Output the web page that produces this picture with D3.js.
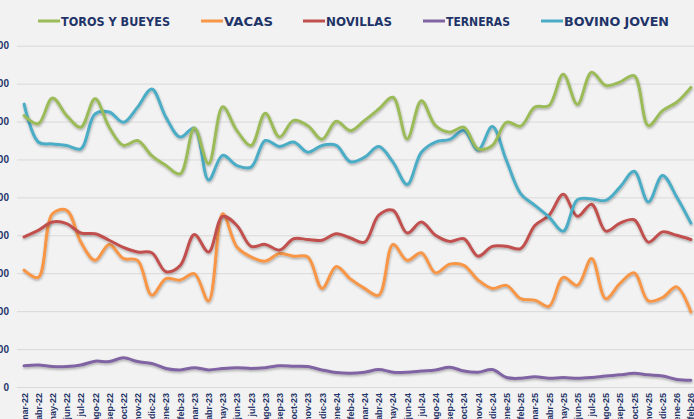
<!DOCTYPE html>
<html><head><meta charset="utf-8">
<script src="https://cdn.jsdelivr.net/npm/d3@7"></script>
<style>html,body{margin:0;padding:0;background:#f2f2f2;overflow:hidden}</style>
</head><body>
<svg id="c" width="694" height="419"></svg>
<script>
const months = ["mar-22","abr-22","may-22","jun-22","jul-22","ago-22","sep-22","oct-22","nov-22","dic-22",
"ene-23","feb-23","mar-23","abr-23","may-23","jun-23","jul-23","ago-23","sep-23","oct-23","nov-23","dic-23",
"ene-24","feb-24","mar-24","abr-24","may-24","jun-24","jul-24","ago-24","sep-24","oct-24","nov-24","dic-24",
"ene-25","feb-25","mar-25","abr-25","may-25","jun-25","jul-25","ago-25","sep-25","oct-25","nov-25","dic-25",
"ene-26","feb-26"];
const yTicks = [0,100,200,300,400,500,600,700,800,900];
const seriesNames = ["TOROS Y BUEYES","VACAS","NOVILLAS","TERNERAS","BOVINO JOVEN"];
const seriesColors = ["#9bbb59","#f79646","#c0504d","#8064a2","#4bacc6"];
const toros = [716,694,762,716,685,760,685,637,650,610,584,562,683,589,739,676,637,722,659,703,689,653,701,676,
703,733,764,654,755,689,672,685,628,637,698,688,738,742,825,745,830,795,804,821,689,729,751,790];
const vacas = [308,289,457,466,382,334,376,339,334,242,286,282,299,227,457,369,343,332,352,345,343,260,318,285,
260,242,376,334,354,301,324,321,282,260,268,233,229,213,289,268,339,233,273,301,227,236,264,198];
const novillas = [396,413,435,431,406,404,387,368,356,354,304,320,402,356,450,426,371,376,361,391,389,387,404,393,
382,453,466,406,435,400,384,391,345,371,371,365,426,453,508,450,482,411,432,441,382,409,400,389];
const terneras = [56,58,54,54,58,68,67,77,67,62,49,45,51,45,49,51,49,51,56,55,54,45,38,36,
39,46,39,39,42,45,52,42,39,46,25,23,27,23,25,23,25,29,32,36,32,29,20,18];
const bovino = [746,646,641,637,628,720,725,698,738,786,711,659,683,546,611,584,580,650,634,646,619,637,637,594,
606,634,593,534,619,646,653,676,625,687,597,510,479,448,411,494,496,492,527,569,488,558,501,432];
const seriesData = [toros,vacas,novillas,terneras,bovino];

const svg = d3.select("#c");
const navy = "#1f3468";
const x = d3.scalePoint().domain(months).range([17,698]).padding(0.5);
const y = d3.scaleLinear().domain([0,900]).range([387,45.7]);

const defs = svg.append("defs");
const f = defs.append("filter").attr("id","sh").attr("x","-5%").attr("y","-20%").attr("width","110%").attr("height","140%");
f.append("feDropShadow").attr("dx",0.5).attr("dy",1.5).attr("stdDeviation",1).attr("flood-color","#000").attr("flood-opacity",0.3);

// gridlines
const yAxis = d3.axisLeft(y).tickValues(yTicks).tickSize(-681).tickPadding(8);
const gy = svg.append("g").attr("transform","translate(17,0)").call(yAxis);
gy.select(".domain").remove();
gy.selectAll(".tick line").attr("stroke","#d9d9d9").attr("stroke-width",1);
gy.selectAll(".tick text").attr("fill",navy).attr("font-family","Liberation Sans, Arial, sans-serif")
  .attr("font-weight","bold").attr("font-size","10px").attr("x",-8);

// x axis labels
const xAxis = d3.axisBottom(x).tickSize(0).tickPadding(0);
const gx = svg.append("g").attr("transform","translate(0,387)").call(xAxis);
gx.select(".domain").attr("stroke","#d9d9d9");
gx.selectAll(".tick text").attr("fill",navy).attr("font-family","Liberation Sans, Arial, sans-serif")
  .attr("font-weight","bold").attr("font-size","9px")
  .attr("transform","rotate(-90)").attr("text-anchor","end").attr("dy","0.33em").attr("x",-6).attr("y",0);

// lines
const line = d3.line().x((d,i)=>x(months[i])).y(d=>y(d)).curve(d3.curveCatmullRom.alpha(0.5));
const order = [3,1,2,4,0];
svg.append("g").selectAll("path").data(order).join("path")
  .attr("d",k=>line(seriesData[k])).attr("fill","none").attr("stroke",k=>seriesColors[k])
  .attr("stroke-width",3).attr("stroke-linejoin","round").attr("stroke-linecap","round").attr("filter","url(#sh)");

// legend
const legX = [38,201,303,423,541];
const legW = [109,49,66,64,105];
const lg = svg.append("g").selectAll("g").data(seriesNames).join("g")
  .attr("transform",(d,i)=>`translate(${legX[i]},21)`);
lg.append("line").attr("x1",0).attr("x2",22).attr("y1",0).attr("y2",0)
  .attr("stroke",(d,i)=>seriesColors[i]).attr("stroke-width",3);
lg.append("text").attr("x",23).attr("y",5).text(d=>d).attr("fill",navy)
  .attr("font-family","DejaVu Sans, sans-serif").attr("font-weight","bold").attr("font-size","13px")
  .attr("textLength",(d,i)=>legW[i]).attr("lengthAdjust","spacingAndGlyphs");
</script>
</body></html>
